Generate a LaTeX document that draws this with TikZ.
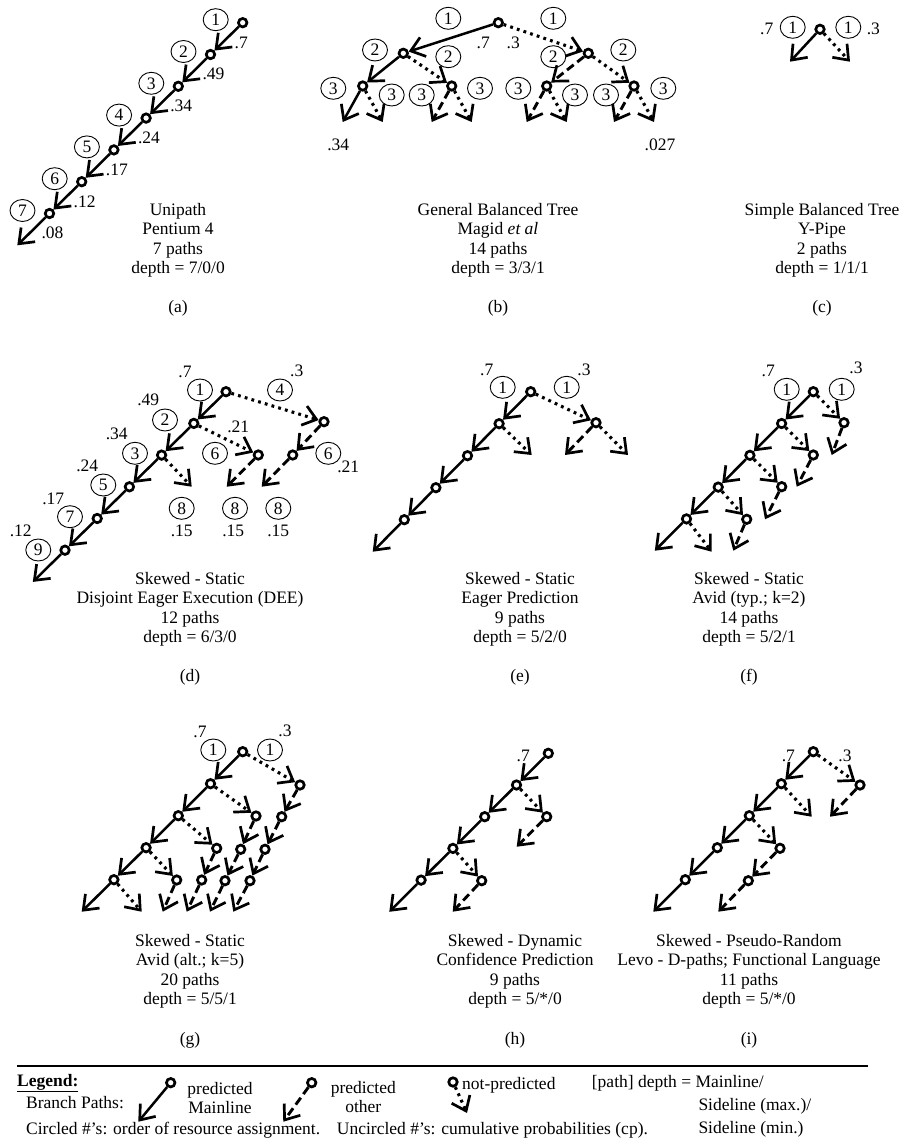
\documentclass[tikz,border=0pt]{standalone}
\usepackage{fontspec}
\setmainfont{Liberation Serif}
\usetikzlibrary{arrows.meta,shapes.geometric}
\newcommand\figfont{\fontsize{17.5}{19.5}\selectfont}
\tikzset{
 bn/.style={circle,draw,fill=white,line width=2.7pt,inner sep=0pt,minimum size=8.5pt},
 cn/.style={ellipse,draw,line width=0.9pt,inner sep=0pt,minimum width=25pt,minimum height=22pt,font=\figfont},
 lb/.style={inner sep=0pt,font=\figfont},
 captxt/.style={inner sep=0pt,font=\figfont,align=center,anchor=north},
 tipa/.style={-{Straight Barb[length=13pt,width=20pt,line width=2.7pt]}},
 ml/.style={line width=2.5pt,tipa},
 po/.style={line width=2.9pt,tipa,dash pattern=on 8.5pt off 4.5pt},
 np/.style={line width=3.1pt,tipa,dash pattern=on 2.8pt off 4.2pt},
}
\begin{document}
\begin{tikzpicture}[x=1pt,y=-1pt]
\useasboundingbox (0,0) rectangle (902,1142);
% ---------------- (a)
\node[bn] (a0) at (242.7,22.7) {};
\node[bn] (a1) at (210.5,54.5) {};
\node[bn] (a2) at (178.3,86.3) {};
\node[bn] (a3) at (146.1,118.1) {};
\node[bn] (a4) at (113.9,149.9) {};
\node[bn] (a5) at (81.7,181.7) {};
\node[bn] (a6) at (49.5,213.5) {};
\coordinate (a7) at (17.3,245.3);
\draw[ml] (a0) -- (a1); \draw[ml] (a1) -- (a2); \draw[ml] (a2) -- (a3);
\draw[ml] (a3) -- (a4); \draw[ml] (a4) -- (a5); \draw[ml] (a5) -- (a6);
\draw[ml] (a6) -- (a7);
\node[cn] (ac1) at (215.7,19.7) {1};
\node[cn] (ac2) at (183.5,51.5) {2};
\node[cn] (ac3) at (151.3,83.3) {3};
\node[cn] (ac4) at (119.1,115.1) {4};
\node[cn] (ac5) at (86.9,146.9) {5};
\node[cn] (ac6) at (54.7,178.7) {6};
\node[cn] (ac7) at (22.5,210.5) {7};
\node[lb,anchor=west] (al1) at (234.5,42.5) {.7};
\node[lb,anchor=west] (al2) at (202.3,74.3) {.49};
\node[lb,anchor=west] (al3) at (170.1,106.1) {.34};
\node[lb,anchor=west] (al4) at (137.9,137.9) {.24};
\node[lb,anchor=west] (al5) at (105.7,169.7) {.17};
\node[lb,anchor=west] (al6) at (73.5,201.5) {.12};
\node[lb,anchor=west] (al7) at (41.3,233.3) {.08};
\node[captxt] (acap) at (178,203) {Unipath\\Pentium 4\\7 paths\\depth = 7/0/0};
\node[lb] (alab) at (178,308) {(a)};
% ---------------- (b)
\node[bn] (b0) at (498.3,22.7) {};
\node[bn] (bL) at (403.3,53.3) {};
\node[bn] (bR) at (588.3,53.3) {};
\node[bn] (bLL) at (362.7,86) {};
\node[bn] (bLR) at (451.7,86) {};
\node[bn] (bRL) at (546.7,86) {};
\node[bn] (bRR) at (634,86) {};
\coordinate (bt1) at (342.7,122); \coordinate (bt2) at (382.7,122);
\coordinate (bt3) at (431.7,122); \coordinate (bt4) at (471.7,122);
\coordinate (bt5) at (526.7,122); \coordinate (bt6) at (566.7,122);
\coordinate (bt7) at (614,122);   \coordinate (bt8) at (654,122);
\draw[ml] (b0) -- (bL); \draw[np] (b0) -- (bR);
\draw[ml] (bL) -- (bLL); \draw[np] (bL) -- (bLR);
\draw[po] (bR) -- (bRL); \draw[np] (bR) -- (bRR);
\draw[ml] (bLL) -- (bt1); \draw[np] (bLL) -- (bt2);
\draw[po] (bLR) -- (bt3); \draw[np] (bLR) -- (bt4);
\draw[po] (bRL) -- (bt5); \draw[np] (bRL) -- (bt6);
\draw[po] (bRR) -- (bt7); \draw[np] (bRR) -- (bt8);
\node[cn] (bc1) at (448.3,18.3) {1};
\node[cn] (bc2) at (553.3,18.3) {1};
\node[cn] (bc3) at (375,50) {2};
\node[cn] (bc4) at (448.3,56.7) {2};
\node[cn] (bc5) at (553.3,56.7) {2};
\node[cn] (bc6) at (623.3,50) {2};
\node[cn] (bc7) at (333.3,88.3) {3};
\node[cn] (bc8) at (391.7,95) {3};
\node[cn] (bc9) at (421.7,95) {3};
\node[cn] (bc10) at (480,88.3) {3};
\node[cn] (bc11) at (518.3,88.3) {3};
\node[cn] (bc12) at (575,95) {3};
\node[cn] (bc13) at (606,95) {3};
\node[cn] (bc14) at (663.3,88.3) {3};
\node[lb] (bl1) at (483.3,42.7) {.7};
\node[lb] (bl2) at (513.3,42.7) {.3};
\node[lb] (bl3) at (338.3,145) {.34};
\node[lb] (bl4) at (660,145) {.027};
\node[captxt] (bcap) at (498,203) {General Balanced Tree\\Magid \textit{et al}\\14 paths\\depth = 3/3/1};
\node[lb] (blab) at (498,308) {(b)};
% ---------------- (c)
\node[bn] (c0) at (820,29.3) {};
\coordinate (ct1) at (790,61.7); \coordinate (ct2) at (850,61.7);
\draw[ml] (c0) -- (ct1); \draw[np] (c0) -- (ct2);
\node[cn] (cc1) at (792.7,27.3) {1};
\node[cn] (cc2) at (848.3,27.3) {1};
\node[lb] (cl1) at (766.7,29.3) {.7};
\node[lb] (cl2) at (873.3,29.3) {.3};
\node[captxt] (ccap) at (822,203) {Simple Balanced Tree\\Y-Pipe\\2 paths\\depth = 1/1/1};
\node[lb] (clab) at (822,308) {(c)};
% ---------------- (d)
\node[bn] (d0) at (226,391.7) {};
\node[bn] (d1) at (193.8,423.4) {};
\node[bn] (d2) at (161.6,455.1) {};
\node[bn] (d3) at (129.4,486.8) {};
\node[bn] (d4) at (97.2,518.5) {};
\node[bn] (d5) at (65,550.2) {};
\coordinate (d6) at (32.8,581.9);
\node[bn] (dR) at (324,421.7) {};
\node[bn] (dRs) at (292.7,455) {};
\coordinate (dRt) at (261.7,486.7);
\node[bn] (dS) at (258.3,455) {};
\coordinate (dSt) at (226.7,486.7);
\coordinate (dT) at (191.7,486.7);
\draw[ml] (d0) -- (d1); \draw[ml] (d1) -- (d2); \draw[ml] (d2) -- (d3);
\draw[ml] (d3) -- (d4); \draw[ml] (d4) -- (d5); \draw[ml] (d5) -- (d6);
\draw[np] (d0) -- (dR); \draw[po] (dR) -- (dRs); \draw[po] (dRs) -- (dRt);
\draw[np] (d1) -- (dS); \draw[po] (dS) -- (dSt);
\draw[np] (d2) -- (dT);
\node[cn] (dc1) at (200,390) {1};
\node[cn] (dc2) at (280,390) {4};
\node[cn] (dc3) at (165,420) {2};
\node[cn] (dc4) at (135,453.3) {3};
\node[cn] (dc5) at (103.3,485) {5};
\node[cn] (dc6) at (70,516.7) {7};
\node[cn] (dc7) at (38.3,550) {9};
\node[cn] (dc8) at (215,453.3) {6};
\node[cn] (dc9) at (328.3,453.3) {6};
\node[cn] (dc10) at (181.7,508.3) {8};
\node[cn] (dc11) at (235,508.3) {8};
\node[cn] (dc12) at (278.3,508.3) {8};
\node[lb] (dl1) at (185,371.7) {.7};
\node[lb] (dl2) at (296.7,370.7) {.3};
\node[lb] (dl3) at (148.3,400) {.49};
\node[lb] (dl4) at (238.3,427.3) {.21};
\node[lb] (dl5) at (116.7,434) {.34};
\node[lb] (dl6) at (87.3,466) {.24};
\node[lb] (dl7) at (53.3,499.3) {.17};
\node[lb] (dl8) at (20.7,530.7) {.12};
\node[lb] (dl9) at (348.3,466.7) {.21};
\node[lb] (dl10) at (181.7,530.7) {.15};
\node[lb] (dl11) at (233.3,530.7) {.15};
\node[lb] (dl12) at (278.3,530.7) {.15};
\node[captxt] (dcap) at (190,572) {Skewed - Static\\Disjoint Eager Execution (DEE)\\12 paths\\depth = 6/3/0};
\node[lb] (dlab) at (190,677) {(d)};
% ---------------- (e)
\node[bn] (e0) at (530.7,391.7) {};
\node[bn] (e1) at (499.1,423.7) {};
\node[bn] (e2) at (467.5,455.7) {};
\node[bn] (e3) at (435.9,487.7) {};
\node[bn] (e4) at (404.3,519.7) {};
\coordinate (e5) at (372.7,551.7);
\node[bn] (eR) at (596,422.7) {};
\coordinate (eRa) at (565,455); \coordinate (eRb) at (628,455);
\coordinate (eT) at (531.7,455);
\draw[ml] (e0) -- (e1); \draw[ml] (e1) -- (e2); \draw[ml] (e2) -- (e3);
\draw[ml] (e3) -- (e4); \draw[ml] (e4) -- (e5);
\draw[np] (e0) -- (eR); \draw[po] (eR) -- (eRa); \draw[np] (eR) -- (eRb);
\draw[np] (e1) -- (eT);
\node[cn] (ec1) at (502.7,387.3) {1};
\node[cn] (ec2) at (566.7,387.3) {1};
\node[lb] (el1) at (486.7,370) {.7};
\node[lb] (el2) at (584,370) {.3};
\node[captxt] (ecap) at (520,572) {Skewed - Static\\Eager Prediction\\9 paths\\depth = 5/2/0};
\node[lb] (elab) at (520,677) {(e)};
% ---------------- (f)
\node[bn] (f0) at (813.3,391.7) {};
\node[bn] (f1) at (781.6,423.5) {};
\node[bn] (f2) at (749.9,455.3) {};
\node[bn] (f3) at (718.2,487.1) {};
\node[bn] (f4) at (686.5,518.9) {};
\coordinate (f5) at (654.8,550.7);
\node[bn] (fR) at (844,422.7) {};
\coordinate (fRt) at (831.7,455);
\node[bn] (fs1) at (813.3,455) {};
\coordinate (fs1t) at (796.7,486.7);
\node[bn] (fs2) at (781.7,486.7) {};
\coordinate (fs2t) at (765,519.3);
\node[bn] (fs3) at (746.7,519.3) {};
\coordinate (fs3t) at (733.3,550.7);
\coordinate (f4t) at (711.7,551.7);
\draw[ml] (f0) -- (f1); \draw[ml] (f1) -- (f2); \draw[ml] (f2) -- (f3);
\draw[ml] (f3) -- (f4); \draw[ml] (f4) -- (f5);
\draw[np] (f0) -- (fR); \draw[po] (fR) -- (fRt);
\draw[np] (f1) -- (fs1); \draw[po] (fs1) -- (fs1t);
\draw[np] (f2) -- (fs2); \draw[po] (fs2) -- (fs2t);
\draw[np] (f3) -- (fs3); \draw[po] (fs3) -- (fs3t);
\draw[np] (f4) -- (f4t);
\node[cn] (fc1) at (786.7,389.3) {1};
\node[cn] (fc2) at (841.7,389.3) {1};
\node[lb] (fl1) at (768.3,370.7) {.7};
\node[lb] (fl2) at (856,368.3) {.3};
\node[captxt] (fcap) at (749,572) {Skewed - Static\\Avid (typ.; k=2)\\14 paths\\depth = 5/2/1};
\node[lb] (flab) at (749,677) {(f)};
% ---------------- (g)
\node[bn] (g0) at (242.7,751.7) {};
\node[bn] (g1) at (210.5,783.7) {};
\node[bn] (g2) at (178.3,815.7) {};
\node[bn] (g3) at (146.1,847.7) {};
\node[bn] (g4) at (113.9,879.7) {};
\coordinate (g5) at (81.7,911.7);
\node[bn] (gR) at (300,785) {};
\node[bn] (gR1) at (281.7,816.7) {};
\node[bn] (gR2) at (265,849.3) {};
\node[bn] (gR3) at (250,880.7) {};
\coordinate (gR4) at (233.3,911.7);
\node[bn] (gA) at (256,816) {};
\node[bn] (gA1) at (240.7,849.3) {};
\node[bn] (gA2) at (225,880.7) {};
\coordinate (gA3) at (210,911.7);
\node[bn] (gB) at (216.7,848.3) {};
\node[bn] (gB1) at (201.7,880) {};
\coordinate (gB2) at (186.7,911.7);
\node[bn] (gC) at (176.7,880) {};
\coordinate (gC1) at (162.7,911.7);
\coordinate (gD) at (141.7,911.7);
\draw[ml] (g0) -- (g1); \draw[ml] (g1) -- (g2); \draw[ml] (g2) -- (g3);
\draw[ml] (g3) -- (g4); \draw[ml] (g4) -- (g5);
\draw[np] (g0) -- (gR); \draw[po] (gR) -- (gR1); \draw[po] (gR1) -- (gR2);
\draw[po] (gR2) -- (gR3); \draw[po] (gR3) -- (gR4);
\draw[np] (g1) -- (gA); \draw[po] (gA) -- (gA1); \draw[po] (gA1) -- (gA2); \draw[po] (gA2) -- (gA3);
\draw[np] (g2) -- (gB); \draw[po] (gB) -- (gB1); \draw[po] (gB1) -- (gB2);
\draw[np] (g3) -- (gC); \draw[po] (gC) -- (gC1);
\draw[np] (g4) -- (gD);
\node[cn] (gc1) at (213.3,750) {1};
\node[cn] (gc2) at (270,750) {1};
\node[lb] (gl1) at (200,731.7) {.7};
\node[lb] (gl2) at (285,730.7) {.3};
\node[captxt] (gcap) at (190,934) {Skewed - Static\\Avid (alt.; k=5)\\20 paths\\depth = 5/5/1};
\node[lb] (glab) at (190,1040) {(g)};
% ---------------- (h)
\node[bn] (h0) at (548.3,753.3) {};
\node[bn] (h1) at (516.5,785) {};
\node[bn] (h2) at (484.7,816.7) {};
\node[bn] (h3) at (452.9,848.4) {};
\node[bn] (h4) at (421.1,880.1) {};
\coordinate (h5) at (389.3,911.8);
\node[bn] (hA) at (546.7,816.7) {};
\coordinate (hA1) at (516.7,846.7);
\node[bn] (hB) at (481.7,880.7) {};
\coordinate (hB1) at (452.7,911.7);
\draw[ml] (h0) -- (h1); \draw[ml] (h1) -- (h2); \draw[ml] (h2) -- (h3);
\draw[ml] (h3) -- (h4); \draw[ml] (h4) -- (h5);
\draw[np] (h1) -- (hA); \draw[po] (hA) -- (hA1);
\draw[np] (h3) -- (hB); \draw[po] (hB) -- (hB1);
\node[lb] (hl1) at (523.3,756) {.7};
\node[captxt] (hcap) at (515,934) {Skewed - Dynamic\\Confidence Prediction\\9 paths\\depth = 5/*/0};
\node[lb] (hlab) at (515,1040) {(h)};
% ---------------- (i)
\node[bn] (i0) at (813.3,751.7) {};
\node[bn] (i1) at (781.3,783.7) {};
\node[bn] (i2) at (749.3,815.7) {};
\node[bn] (i3) at (717.3,847.7) {};
\node[bn] (i4) at (685.3,879.7) {};
\coordinate (i5) at (653.3,911.7);
\node[bn] (iR) at (860,785) {};
\coordinate (iR1) at (830,816.7);
\coordinate (iT) at (811.7,816.7);
\node[bn] (iS) at (780,848.3) {};
\node[bn] (iS1) at (748.3,880.7) {};
\coordinate (iS2) at (718.3,911.7);
\draw[ml] (i0) -- (i1); \draw[ml] (i1) -- (i2); \draw[ml] (i2) -- (i3);
\draw[ml] (i3) -- (i4); \draw[ml] (i4) -- (i5);
\draw[np] (i0) -- (iR); \draw[po] (iR) -- (iR1);
\draw[np] (i1) -- (iT);
\draw[np] (i2) -- (iS); \draw[po] (iS) -- (iS1); \draw[po] (iS1) -- (iS2);
\node[lb] (il1) at (788.3,756) {.7};
\node[lb] (il2) at (845,756) {.3};
\node[captxt] (icap) at (749,934) {Skewed - Pseudo-Random\\Levo - D-paths; Functional Language\\11 paths\\depth = 5/*/0};
\node[lb] (ilab) at (749,1040) {(i)};
% ---------------- legend
\coordinate (rl) at (17,1066); \coordinate (rr) at (868,1066);
\draw[line width=1.5pt] (rl) -- (rr);
\node[lb,anchor=west] (lg) at (17,1083) {\underline{\textbf{Legend:}}};
\node[lb,anchor=west] (lbp) at (26,1103) {Branch Paths:};
\node[bn] (k1) at (170.7,1082.7) {};
\coordinate (k1t) at (138.3,1121.7);
\draw[ml] (k1) -- (k1t);
\node[lb,align=center] (k1l) at (220,1098) {predicted\\Mainline};
\node[bn] (k2) at (311.7,1082.7) {};
\coordinate (k2t) at (283.3,1121.7);
\draw[po] (k2) -- (k2t);
\node[lb,align=center] (k2l) at (363.3,1097) {predicted\\other};
\node[bn] (k3) at (453,1082) {};
\coordinate (k3t) at (467,1113);
\draw[np] (k3) -- (k3t);
\node[lb,anchor=west] (k3l) at (462,1085) {not-predicted};
\node[lb,anchor=west] (kd) at (591.7,1083.3) {[path] depth = Mainline/};
\node[lb,anchor=north west,align=left,font=\fontsize{17.5}{23}\selectfont] (kd2) at (698.3,1098) {Sideline (max.)/\\Sideline (min.)};
\node[lb,anchor=west] (kc) at (26,1130) {Circled \#'s: order of resource assignment.};
\node[lb,anchor=west] (ku) at (336.7,1130) {Uncircled \#'s: cumulative probabilities (cp).};
\end{tikzpicture}
\end{document}
